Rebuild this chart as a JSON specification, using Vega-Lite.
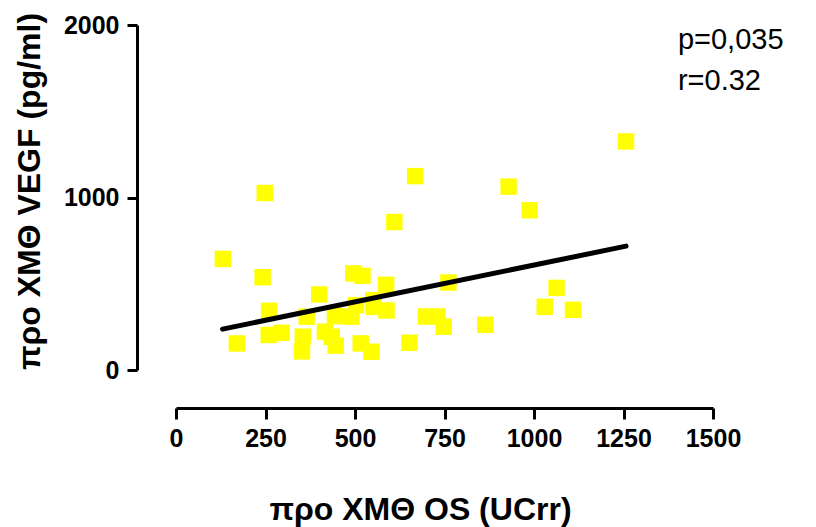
{
  "$schema": "https://vega.github.io/schema/vega-lite/v6.json",
  "autosize": {"type": "none"},
  "width": 537,
  "height": 345,
  "padding": {"left": 176, "top": 25, "right": 103, "bottom": 157},
  "background": "white",
  "config": {
    "view": {"stroke": null},
    "font": "Liberation Sans"
  },
  "datasets": {
    "points": [
      {"os": 248, "vegf": 1026},
      {"os": 668, "vegf": 1124},
      {"os": 610, "vegf": 858},
      {"os": 131, "vegf": 644},
      {"os": 242, "vegf": 538},
      {"os": 495, "vegf": 560},
      {"os": 521, "vegf": 546},
      {"os": 587, "vegf": 494},
      {"os": 400, "vegf": 438},
      {"os": 761, "vegf": 507},
      {"os": 260, "vegf": 343},
      {"os": 365, "vegf": 309},
      {"os": 503, "vegf": 376},
      {"os": 551, "vegf": 405},
      {"os": 552, "vegf": 366},
      {"os": 588, "vegf": 345},
      {"os": 444, "vegf": 312},
      {"os": 490, "vegf": 309},
      {"os": 698, "vegf": 310},
      {"os": 730, "vegf": 310},
      {"os": 748, "vegf": 251},
      {"os": 170, "vegf": 154},
      {"os": 259, "vegf": 203},
      {"os": 295, "vegf": 216},
      {"os": 354, "vegf": 193},
      {"os": 352, "vegf": 108},
      {"os": 416, "vegf": 222},
      {"os": 435, "vegf": 193},
      {"os": 446, "vegf": 141},
      {"os": 516, "vegf": 154},
      {"os": 546, "vegf": 106},
      {"os": 652, "vegf": 158},
      {"os": 1257, "vegf": 1325},
      {"os": 929, "vegf": 1063},
      {"os": 988, "vegf": 926},
      {"os": 1063, "vegf": 476},
      {"os": 1030, "vegf": 366},
      {"os": 1109, "vegf": 349},
      {"os": 864, "vegf": 262}
    ],
    "fit": [
      {"os": 130, "vegf": 237},
      {"os": 1257, "vegf": 718}
    ],
    "notes": [
      {"os": 1402, "vegf": 1858, "label": "p=0,035"},
      {"os": 1402, "vegf": 1625, "label": "r=0.32"}
    ]
  },
  "layer": [
    {
      "data": {"name": "points"},
      "mark": {"type": "point", "shape": "square", "filled": true, "color": "#FFFF00", "opacity": 1, "size": 270},
      "encoding": {
        "x": {
          "field": "os", "type": "quantitative",
          "scale": {"domain": [0, 1500], "nice": false, "zero": false},
          "axis": {
            "values": [0, 250, 500, 750, 1000, 1250, 1500],
            "format": "d",
            "labelOverlap": false,
            "labelFlush": false,
            "offset": 38,
            "grid": false,
            "domainColor": "black", "domainWidth": 3,
            "tickColor": "black", "tickWidth": 3, "tickSize": 11,
            "labelFont": "Liberation Sans", "labelFontWeight": "bold", "labelFontSize": 25, "labelColor": "black",
            "labelPadding": 7,
            "title": "προ XMΘ OS (UCrr)",
            "titleFont": "Liberation Sans", "titleFontWeight": "bold", "titleFontSize": 32, "titleColor": "black",
            "titleX": 244, "titleY": 111, "titleBaseline": "alphabetic", "titleAlign": "center"
          }
        },
        "y": {
          "field": "vegf", "type": "quantitative",
          "scale": {"domain": [0, 2000], "nice": false},
          "axis": {
            "values": [0, 1000, 2000],
            "format": "d",
            "labelOverlap": false,
            "labelFlush": false,
            "offset": 39,
            "grid": false,
            "domainColor": "black", "domainWidth": 3,
            "tickColor": "black", "tickWidth": 3, "tickSize": 10,
            "labelFont": "Liberation Sans", "labelFontWeight": "bold", "labelFontSize": 25, "labelColor": "black",
            "labelPadding": 8,
            "title": "προ XMΘ VEGF (pg/ml)",
            "titleFont": "Liberation Sans", "titleFontWeight": "bold", "titleFontSize": 32, "titleColor": "black",
            "titleAngle": 270, "titleAlign": "center", "titleBaseline": "alphabetic",
            "titleX": -98, "titleY": 166
          }
        }
      }
    },
    {
      "data": {"name": "fit"},
      "mark": {"type": "line", "color": "black", "strokeWidth": 5, "strokeCap": "round"},
      "encoding": {
        "x": {"field": "os", "type": "quantitative"},
        "y": {"field": "vegf", "type": "quantitative"}
      }
    },
    {
      "data": {"name": "notes"},
      "mark": {"type": "text", "align": "left", "baseline": "alphabetic", "font": "Liberation Sans", "fontSize": 29, "color": "black"},
      "encoding": {
        "x": {"field": "os", "type": "quantitative"},
        "y": {"field": "vegf", "type": "quantitative"},
        "text": {"field": "label"}
      }
    }
  ]
}
